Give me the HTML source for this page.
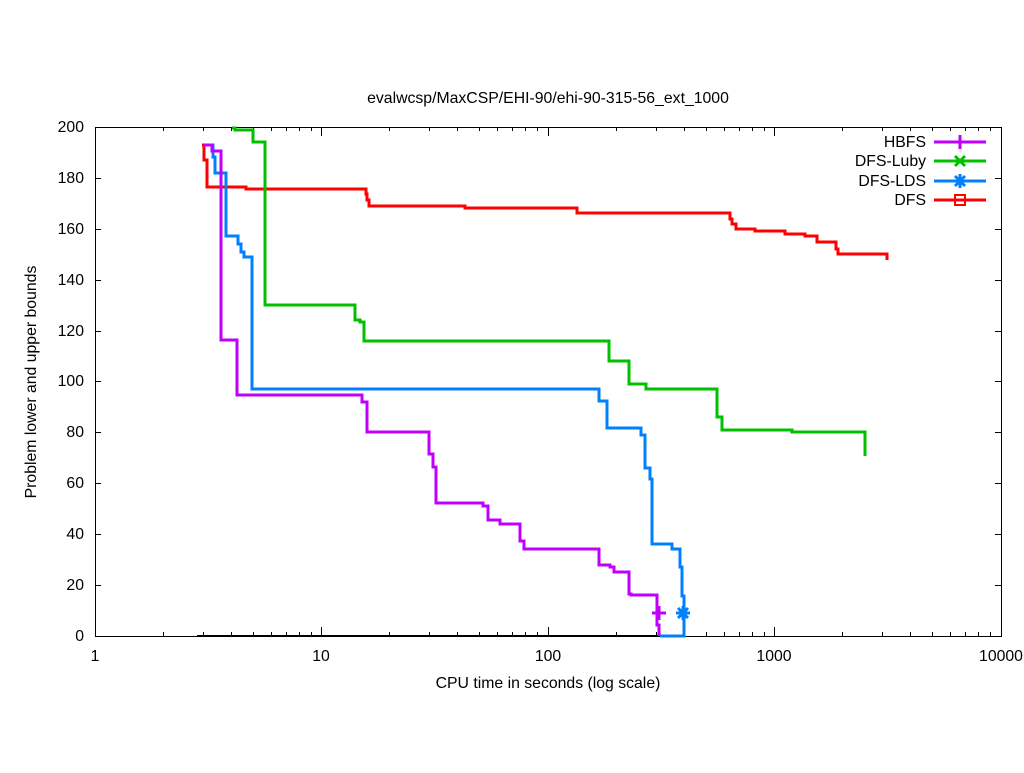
<!DOCTYPE html><html><head><style>body{margin:0;background:#fff}</style></head><body>
<svg width="1024" height="768" xmlns="http://www.w3.org/2000/svg" font-family="Liberation Sans, sans-serif" font-size="15.8">
<rect width="1024" height="768" fill="#fff"/>
<text x="548" y="103" text-anchor="middle">evalwcsp/MaxCSP/EHI-90/ehi-90-315-56_ext_1000</text>
<g stroke="#000" stroke-width="1" fill="none">
<rect x="95.5" y="127.5" width="906" height="509"/>
<path d="M95 178.5h6M1001 178.5h-6M95 229.5h6M1001 229.5h-6M95 280.5h6M1001 280.5h-6M95 331.5h6M1001 331.5h-6M95 381.5h6M1001 381.5h-6M95 432.5h6M1001 432.5h-6M95 483.5h6M1001 483.5h-6M95 534.5h6M1001 534.5h-6M95 585.5h6M1001 585.5h-6"/>
<path d="M321.5 636v-9M321.5 127v9M548.5 636v-9M548.5 127v9M774.5 636v-9M774.5 127v9"/>
<path d="M163.5 636v-4M203.5 636v-4M231.5 636v-4M253.5 636v-4M271.5 636v-4M286.5 636v-4M299.5 636v-4M311.5 636v-4M163.5 127v4M203.5 127v4M231.5 127v4M253.5 127v4M271.5 127v4M286.5 127v4M299.5 127v4M311.5 127v4
M389.5 636v-4M429.5 636v-4M457.5 636v-4M479.5 636v-4M497.5 636v-4M512.5 636v-4M525.5 636v-4M537.5 636v-4M389.5 127v4M429.5 127v4M457.5 127v4M479.5 127v4M497.5 127v4M512.5 127v4M525.5 127v4M537.5 127v4
M616.5 636v-4M656.5 636v-4M684.5 636v-4M706.5 636v-4M724.5 636v-4M739.5 636v-4M752.5 636v-4M764.5 636v-4M616.5 127v4M656.5 127v4M684.5 127v4M706.5 127v4M724.5 127v4M739.5 127v4M752.5 127v4M764.5 127v4
M842.5 636v-4M882.5 636v-4M910.5 636v-4M932.5 636v-4M950.5 636v-4M965.5 636v-4M978.5 636v-4M990.5 636v-4M842.5 127v4M882.5 127v4M910.5 127v4M932.5 127v4M950.5 127v4M965.5 127v4M978.5 127v4M990.5 127v4"/>
</g>
<g text-anchor="end">
<text x="84" y="132">200</text><text x="84" y="183">180</text><text x="84" y="234">160</text><text x="84" y="285">140</text><text x="84" y="336">120</text><text x="84" y="386">100</text><text x="84" y="437">80</text><text x="84" y="488">60</text><text x="84" y="539">40</text><text x="84" y="590">20</text><text x="84" y="641">0</text>
</g>
<g text-anchor="middle">
<text x="95" y="661">1</text><text x="321" y="661">10</text><text x="548" y="661">100</text><text x="774" y="661">1000</text><text x="1001" y="661">10000</text>
<text x="548" y="688">CPU time in seconds (log scale)</text>
</g>
<text transform="translate(36,382) rotate(-90)" text-anchor="middle">Problem lower and upper bounds</text>
<g fill="none" stroke-width="3">
<path stroke="#000" stroke-width="2" d="M197 636H684"/>
<path stroke="#ff0000" d="M202 145H204V160H207V187H246V189H366V194H367V200H369V206H465V208H577V213H730V219H732V224H736V229H755V231H785V234H805V236H817V242H836V249H838V254H887V260"/>
<path stroke="#00c000" d="M232 128H235V130H253V142H265V305H355V320H360V322H364V341H609V361H629V384H646V389H717V417H722V430H792V432H865V456"/>
<path stroke="#0080ff" d="M204 145H213V157H215V173H226V236H238V244H241V252H244V257H252V389H599V401H607V428H641V435H645V468H650V479H652V544H672V549H680V567H682V596H684V636H660"/>
<path stroke="#c000ff" d="M204 145H212V151H221V340H237V395H362V402H367V432H429V454H433V467H436V503H483V506H488V520H500V524H520V541H524V549H599V565H610V567H614V572H629V594H631V595H657V625H659V636"/>
<path stroke="#c000ff" d="M652 613h14M659 606v14"/>
<path stroke="#0080ff" d="M676 613h14M683 606v14M678 608l10 10M688 608l-10 10"/>
<path stroke="#c000ff" d="M934 142H986M953 142h14M960 135v14"/>
<path stroke="#00c000" d="M934 161H986M955 156l10 10M965 156l-10 10"/>
<path stroke="#0080ff" d="M934 181H986M953 181h14M960 174v14M955 176l10 10M965 176l-10 10"/>
<path stroke="#ff0000" d="M934 200H986"/><rect x="955" y="195" width="10" height="10" stroke="#ff0000" stroke-width="2"/>
</g>
<g text-anchor="end">
<text x="926" y="147">HBFS</text><text x="926" y="166">DFS-Luby</text><text x="926" y="186">DFS-LDS</text><text x="926" y="205">DFS</text>
</g>
</svg></body></html>
